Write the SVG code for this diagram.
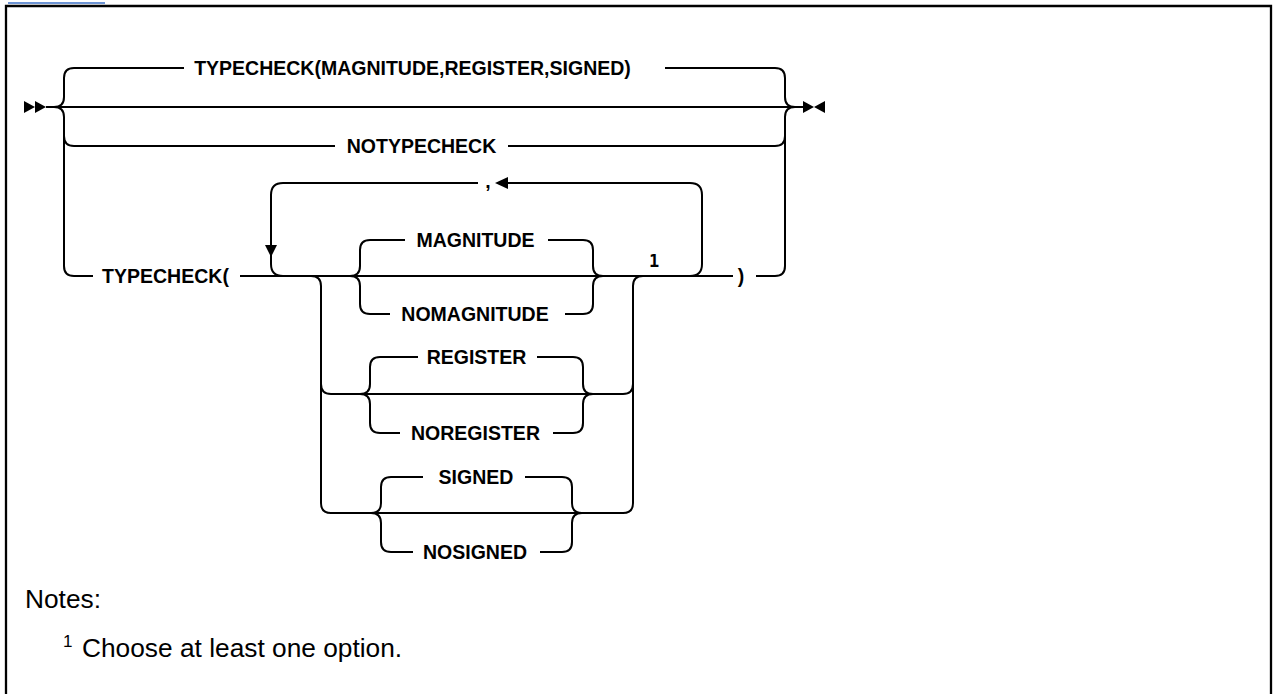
<svg xmlns="http://www.w3.org/2000/svg" width="1273" height="694" viewBox="0 0 1273 694">
<style>
.ln{fill:none;stroke:#000;stroke-width:2}
.lb{font-family:"Liberation Sans",Arial,sans-serif;font-weight:bold;font-size:19.5px;fill:#000;text-anchor:middle}
.ah{fill:#000}
.nt{font-family:"Liberation Sans",Arial,sans-serif;font-size:26.3px;fill:#000}
</style>
<rect x="0" y="0" width="1273" height="694" fill="#fff"/>
<line x1="8" y1="3" x2="105" y2="3" stroke="#3b6fc4" stroke-width="1.5"/>
<path d="M6 694 V6 H1271 V694" fill="none" stroke="#000" stroke-width="2.3"/>
<g id="connectors">
<path class="ln" d="M46 107 H803"/>
<path class="ln" d="M54 107 Q64 107 64 97 V78 Q64 68 74 68 H184"/>
<path class="ln" d="M665 68 H775 Q785 68 785 78 V97 Q785 107 795 107"/>
<path class="ln" d="M54 107 Q64 107 64 117 V136 Q64 146 74 146 H335"/>
<path class="ln" d="M508 146 H775 Q785 146 785 136 V117 Q785 107 795 107"/>
<path class="ln" d="M64 117 V266 Q64 276 74 276 H93"/>
<path class="ln" d="M240 276 H733"/>
<path class="ln" d="M756 276 H775 Q785 276 785 266 V117"/>
<path class="ln" d="M690 276 Q702 276 702 264 V195 Q702 183 690 183 H508"/>
<path class="ln" d="M478 183 H283 Q271 183 271 195 V264 Q271 276 283 276"/>
<path class="ln" d="M350 276 Q360 276 360 266 V250 Q360 240 370 240 H405"/>
<path class="ln" d="M548 240 H583 Q593 240 593 250 V266 Q593 276 603 276"/>
<path class="ln" d="M350 276 Q360 276 360 286 V304 Q360 314 370 314 H390"/>
<path class="ln" d="M565 314 H583 Q593 314 593 304 V286 Q593 276 603 276"/>
<path class="ln" d="M311 276 Q321 276 321 286 V503 Q321 513 331 513 H623 Q633 513 633 503 V286 Q633 276 643 276"/>
<path class="ln" d="M321 384 Q321 394 331 394 H623 Q633 394 633 384"/>
<path class="ln" d="M360 394 Q370 394 370 384 V367 Q370 357 380 357 H418"/>
<path class="ln" d="M537 357 H573 Q583 357 583 367 V384 Q583 394 593 394"/>
<path class="ln" d="M360 394 Q370 394 370 404 V423 Q370 433 380 433 H400"/>
<path class="ln" d="M553 433 H573 Q583 433 583 423 V404 Q583 394 593 394"/>
<path class="ln" d="M371 513 Q381 513 381 503 V487 Q381 477 391 477 H423"/>
<path class="ln" d="M525 477 H562 Q572 477 572 487 V503 Q572 513 582 513"/>
<path class="ln" d="M371 513 Q381 513 381 523 V542 Q381 552 391 552 H413"/>
<path class="ln" d="M540 552 H562 Q572 552 572 542 V523 Q572 513 582 513"/>
<polygon class="ah" points="24,101 35,107 24,113"/>
<polygon class="ah" points="35,101 46,107 35,113"/>
<polygon class="ah" points="803,101 814,107 803,113"/>
<polygon class="ah" points="825,101 814,107 825,113"/>
<polygon class="ah" points="495,183 508,177 508,189"/>
<polygon class="ah" points="271,257 265,245 277,245"/>
</g>
<g id="n-typecheck-default"><text class="lb" x="412.5" y="75">TYPECHECK(MAGNITUDE,REGISTER,SIGNED)</text></g>
<g id="n-notypecheck"><text class="lb" x="421.5" y="153">NOTYPECHECK</text></g>
<g id="n-typecheck-open"><text class="lb" x="165.5" y="283">TYPECHECK(</text></g>
<g id="n-comma"><text class="lb" x="488" y="188">,</text></g>
<g id="n-magnitude"><text class="lb" x="475.5" y="247">MAGNITUDE</text></g>
<g id="n-nomagnitude"><text class="lb" x="475" y="321">NOMAGNITUDE</text></g>
<g id="n-register"><text class="lb" x="476.5" y="364">REGISTER</text></g>
<g id="n-noregister"><text class="lb" x="475.5" y="440">NOREGISTER</text></g>
<g id="n-signed"><text class="lb" x="476" y="484">SIGNED</text></g>
<g id="n-nosigned"><text class="lb" x="475" y="559">NOSIGNED</text></g>
<g id="n-close"><text class="lb" x="741" y="283">)</text></g>
<g id="n-note-ref"><text x="654" y="267" font-family="DejaVu Sans Mono,monospace" font-weight="bold" font-size="17" text-anchor="middle" fill="#000">1</text></g>
<g id="notes">
<text class="nt" x="25" y="608">Notes:</text>
<text x="63" y="647" font-family="Liberation Sans,Arial,sans-serif" font-size="17" fill="#000">1</text>
<text class="nt" x="82" y="657">Choose at least one option.</text>
</g>
</svg>
